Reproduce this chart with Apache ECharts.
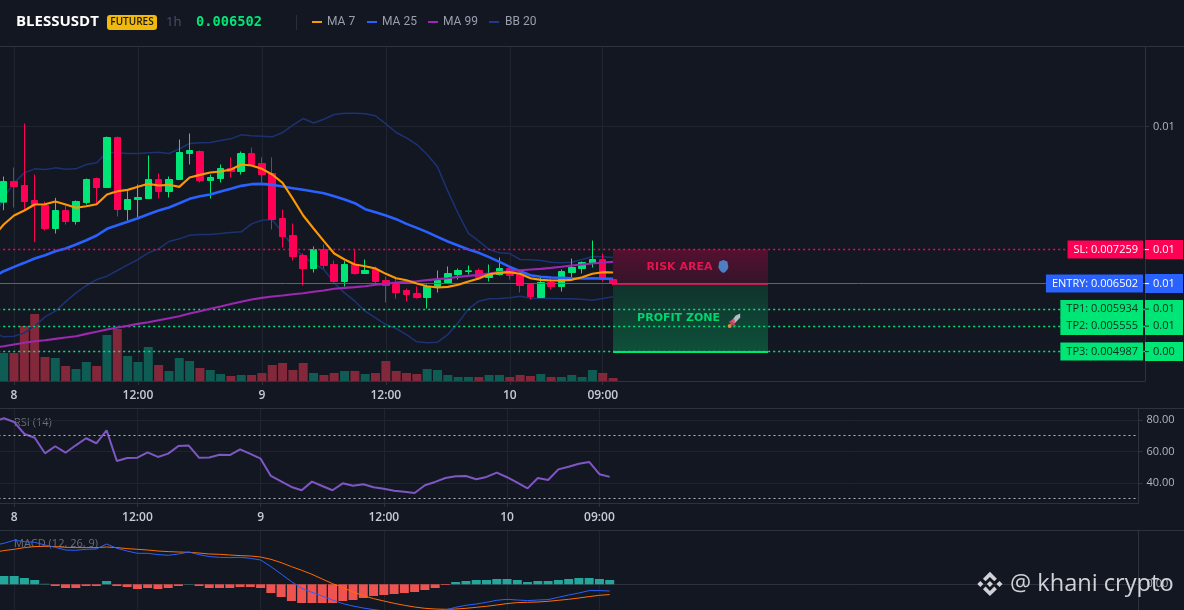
<!DOCTYPE html>
<html><head><meta charset="utf-8">
<style>html,body{margin:0;padding:0;background:#131722}#c{width:1184px;height:610px}</style>
<script src="https://cdn.jsdelivr.net/npm/echarts@6/dist/echarts.min.js"></script>
</head><body><div id="c"></div>
<script>
// prices are in millionths (1e-6 USDT). Candle and volume arrays start at the first whole bar;
// the line studies carry one extra leading value for the bar just cut off by the left edge.
const opens =[8315,8775,8686,8352,8240,7728,8129,7884,8307,8842,8641,9755,8151,8374,8396,8820,8552,8820,9399,9443,8797,8842,9065,8998,9399,9176,8953,7951,7572,7127,6837,7261,6926,6548,6926,6726,6815,6570,6481,6347,6281,6191,6436,6526,6704,6771,6793,6637,6704,6837,6704,6481,6191,6526,6436,6748,6837,6949,7038,6592];
const closes=[8775,8664,8330,8263,7728,8129,7884,8330,8820,8641,9755,8151,8374,8419,8820,8552,8820,9421,9465,8797,8864,9065,8998,9399,9154,8931,7929,7550,7105,6837,7260,6904,6548,6926,6726,6793,6548,6459,6303,6258,6191,6436,6570,6726,6793,6785,6637,6704,6837,6681,6459,6214,6526,6436,6771,6860,6971,7038,6592,6503];
const lows  =[8136,8196,8151,7424,7684,7617,7817,7817,8263,8285,8641,7996,7906,7973,8396,8396,8419,8820,9154,8753,8396,8753,8864,8931,9154,8753,7706,7305,7015,6459,6748,6837,6526,6437,6704,6726,6481,6080,6169,6102,6169,5947,6303,6526,6592,6704,6592,6548,6681,6592,6303,6147,6191,6370,6325,6637,6726,6860,6548,6459];
const highs =[8886,9087,10067,8931,8330,8411,8240,8352,8842,8864,9777,9777,8560,8708,9354,8953,8886,9710,9844,9465,8931,9154,9310,9443,9532,9310,9310,8151,7840,7171,7327,7372,7016,7001,7261,7038,6882,6659,6615,6392,6436,6481,6793,6882,6837,6904,6837,6926,7082,6837,6748,6503,6637,6615,6815,7060,6993,7461,7171,6637];
const ma7   =[7544,7817,8018,8129,8263,8270,8330,8263,8189,8226,8270,8486,8560,8589,8656,8723,8686,8701,8656,8864,8923,8975,8998,9042,9154,9131,9057,8931,8745,8389,8018,7728,7446,7171,7038,6926,6889,6837,6719,6622,6577,6503,6444,6414,6429,6474,6548,6615,6711,6741,6756,6719,6622,6585,6570,6570,6585,6644,6719,6756,6748];
const ma25  =[6650,6778,6874,6964,7060,7134,7223,7283,7372,7468,7572,7721,7802,7877,7958,8047,8129,8196,8292,8389,8448,8486,8552,8612,8678,8716,8723,8701,8664,8627,8590,8552,8515,8448,8374,8293,8159,8092,8018,7936,7832,7743,7647,7543,7439,7350,7261,7186,7090,6986,6874,6778,6689,6652,6637,6630,6622,6615,6622,6615,6607];
const ma99  =[5070,5107,5145,5182,5219,5241,5271,5301,5330,5382,5427,5479,5523,5560,5605,5642,5687,5731,5776,5835,5887,5939,5990,6045,6096,6147,6184,6214,6238,6264,6288,6318,6347,6385,6407,6422,6444,6474,6496,6526,6540,6555,6578,6600,6622,6652,6674,6696,6726,6756,6778,6800,6815,6830,6852,6875,6904,6926,6949,6971,6986];
const bbUp  =[7950,8411,8745,8968,9057,9042,9079,9050,9057,9154,9191,9428,9413,9399,9399,9413,9428,9399,9503,9621,9636,9644,9688,9725,9814,9792,9785,9770,9866,10030,10178,10078,10163,10267,10297,10297,10282,10238,10059,9866,9748,9599,9376,9102,8560,8062,7620,7446,7261,7186,7171,7038,7030,7016,6978,6964,6978,7038,7105,7097,7082];
const bbLow =[5400,5315,5330,5404,5553,5761,5887,6100,6295,6459,6592,6666,6793,6919,7038,7186,7275,7439,7498,7580,7595,7595,7617,7639,7654,7832,7914,7929,7632,7335,7097,6949,6815,6518,6295,6110,5887,5739,5590,5501,5367,5204,5182,5197,5367,5627,5939,6110,6162,6169,6184,6221,6177,6169,6169,6162,6162,6154,6132,6169,6206];
const volume=[28,28,55,67,24,23,15,12,19,15,46,52,25,19,34,16,10,23,20,13,11,7,5,6,6,8,16,18,11,18,8,6,8,10,10,7,8,20,10,8,7,12,11,6,4,4,4,6,6,4,6,5,7,4,4,6,4,11,8,3];
const rsi   =[79,81.1,78.7,71.1,68.7,58.8,63.3,59.2,63.9,68.4,65.2,73.4,53.9,55.8,56.0,59.4,56.5,58.6,63.5,63.7,56.0,56.2,57.9,57.7,61.3,58.4,55.4,44.4,41.0,37.4,35.3,40.8,38.0,35.3,39.7,38.2,39.1,37.2,36.3,35.0,34.4,33.6,38.5,40.6,43.1,44.2,44.4,42.3,43.8,46.5,43.6,40.1,36.5,43.1,41.8,48.6,50.3,52.2,53.3,45.5,43.8];
const macd  =[39,41,44,42.7,42,39.3,37,34.3,34,35,35.3,40.3,36,33.3,31,31,29.7,29,30.3,32.3,29.7,27.7,27,26.7,27,26,24.3,17.7,10.3,2.7,-4,-8,-11.7,-15.7,-19.3,-21.7,-23.7,-25.3,-26.7,-28.3,-29.3,-30,-30,-28.3,-25.7,-23,-21,-19.7,-18,-16,-15,-15.7,-16.3,-15.7,-15.3,-13,-10.7,-8.7,-6.3,-6.3,-6.7];
const signal=[32,33.7,35,36.7,37.7,38,37.7,37,36.7,36.7,36.7,37.3,36.7,35.7,35,34.3,33.3,32.7,32.3,32,31.3,30.3,30,29.3,28.7,28.3,27.3,25,21.7,17.7,14,10,5.3,0.7,-3.3,-7.7,-11.3,-14.3,-16.7,-19,-21,-22.7,-24,-24.7,-25,-24.7,-24,-23,-22,-20.7,-19.3,-18.3,-18,-17.7,-17,-16,-15,-13.7,-12.3,-11,-10.3];
const hist  =[8.3,8.3,6.3,4.3,0.5,-1.7,-3.7,-3.7,-1.7,-1.7,3.3,-1.7,-2.7,-4.7,-3.7,-4.7,-3.7,-1.7,0.3,-1.7,-3.7,-3.7,-3.7,-2.7,-2.7,-3.7,-8.7,-12.7,-16.7,-18.7,-18.7,-18.7,-18.7,-16.7,-15.7,-13.7,-11.7,-10.7,-9.7,-8.7,-7.7,-5.7,-3.7,-0.7,2.3,3.3,4.3,4.3,5.3,5.3,4.3,2.3,3.3,3.3,4.3,5.3,6.3,6.3,5.3,4.3];
const levelNames =['SL: 0.007259','ENTRY: 0.006502','TP1: 0.005934','TP2: 0.005555','TP3: 0.004987'];
const levelValues=[7259,6502,5934,5555,4987];
const levelAxis  =['0.01','0.01','0.01','0.01','0.00'];
const levelFill  =['#ff0055','#2962ff','#00e676','#00e676','#00e676'];
const levelText  =['#ffffff','#ffffff','#0b2b1c','#0b2b1c','#0b2b1c'];
const legendNames=['MA 7','MA 25','MA 99','BB 20'];
const legendColors=['#ff9800','#2962ff','#9c27b0','#1e3a8a'];
const timeTicks={2:'8',14:'12:00',26:'9',38:'12:00',50:'10',59:'09:00'};
const CAT_COUNT=112, ZONE_START=60, ZONE_END=75;

const FONT='"Open Sans",sans-serif', GRID='#20242f', AXIS='#2e323e', TXT='#c8cbd3';
const categories=Array.from({length:CAT_COUNT},(_,i)=>timeTicks[i]||'');
const isTick=(i,v)=>v!=='';
const chart=echarts.init(document.getElementById('c'),null,{renderer:'canvas'});
const xBase=(gridIndex,labels)=>({type:'category',gridIndex,data:categories,boundaryGap:true,
  axisLine:{show:true,lineStyle:{color:AXIS}},
  axisTick:{show:labels,interval:isTick,alignWithLabel:true,length:4,lineStyle:{color:AXIS}},
  axisLabel:{show:labels,interval:isTick,color:TXT,fontFamily:FONT,fontSize:12,fontWeight:600,margin:9},
  splitLine:{show:true,interval:isTick,alignWithLabel:true,lineStyle:{color:GRID}}});
const yBase=(gridIndex,min,max,vals,fmt)=>({type:'value',gridIndex,position:'right',min,max,
  axisLine:{show:true,lineStyle:{color:AXIS}},
  axisTick:{show:true,length:4,customValues:vals,lineStyle:{color:AXIS}},
  axisLabel:{customValues:vals,formatter:fmt,color:'#b2b5be',fontFamily:FONT,fontSize:11,margin:8,padding:[2,0,0,0]},
  splitLine:{show:true,lineStyle:{color:GRID}}});
const line=(name,data,color,width,x,y,z)=>({name,type:'line',data,xAxisIndex:x,yAxisIndex:y,z,showSymbol:false,symbol:'none',smooth:false,lineStyle:{color,width},animation:false,silent:true});
const grad=(a,b)=>new echarts.graphic.LinearGradient(0,0,0,1,[{offset:0,color:a},{offset:1,color:b}]);

const levelLines=[];
levelValues.forEach((v,i)=>{
  const solid=i===1;
  const ls={color:levelFill[i],width:solid?1:1.3,type:solid?'solid':[2,3]};
  levelLines.push({yAxis:v,lineStyle:ls,label:{show:true,position:'end',distance:0,
    formatter:'{d|}{v|'+levelAxis[i]+'}',padding:(i==2||i==3)?[2.5,0,2.5,0]:[3,0,3,0],backgroundColor:levelFill[i],width:38,
    rich:{d:{width:4,height:1,backgroundColor:levelText[i]==='#ffffff'?'#ffffff':'#0b2b1c'},
          v:{color:levelText[i],fontFamily:FONT,fontSize:11,lineHeight:13,padding:[0,0,0,4]}}}});
  levelLines.push({yAxis:v,lineStyle:{color:'rgba(0,0,0,0)',width:0},label:{show:true,position:'insideEnd',distance:2,
    formatter:levelNames[i],color:levelText[i],backgroundColor:levelFill[i],fontFamily:FONT,fontSize:11,padding:[3,5,3,6],lineHeight:12}});
});
const edge=(v,c,w)=>[{coord:[ZONE_START,v],lineStyle:{color:c,width:w,type:'solid'},label:{show:false}},{coord:[ZONE_END,v]}];

const series=[
 {name:'Volume',type:'bar',xAxisIndex:0,yAxisIndex:1,z:1,barWidth:9,animation:false,silent:true,
  data:['-'].concat(volume.map((v,i)=>({value:v,itemStyle:{color:closes[i]>=opens[i]?'#0e5c54':'#83283a'}})))},
 line('BB Upper',bbUp,'#1c3272',1.5,0,0,2),
 line('BB Lower',bbLow,'#1c3272',1.5,0,0,2),
 {name:'Price',type:'candlestick',xAxisIndex:0,yAxisIndex:0,z:3,barWidth:7,animation:false,silent:true,
  data:[['-','-','-','-']].concat(opens.map((o,i)=>[o,closes[i],lows[i],highs[i]])),
  itemStyle:{color:'#00e676',color0:'#ff0055',borderColor:'#00e676',borderColor0:'#ff0055',borderWidth:1}},
 line('MA 25',ma25,'#2962ff',2.6,0,0,4),
 line('MA 99',ma99,'#9c27b0',2.1,0,0,5),
 line('MA 7',ma7,'#ff9800',2.1,0,0,6),
 {name:'Levels',type:'line',data:[],xAxisIndex:0,yAxisIndex:0,z:7,silent:true,animation:false,
  markLine:{silent:true,animation:false,symbol:'none',precision:0,data:levelLines.concat([
     edge(6502,'#f0145a',1.5),edge(4987,'#00e676',2)])},
  markArea:{silent:true,animation:false,data:[
    [{coord:[ZONE_START,7259],itemStyle:{color:grad('rgba(255,0,85,0.28)','rgba(255,0,85,0.14)')},
      label:{show:true,position:'inside',offset:[-11,1],formatter:'RISK AREA',color:'#e8124f',fontFamily:'"DejaVu Sans",sans-serif',fontSize:11,fontWeight:'bold'}},{coord:[ZONE_END,6502]}],
    [{coord:[ZONE_START,6502],itemStyle:{color:grad('rgba(0,230,118,0.13)','rgba(0,230,118,0.28)')},
      label:{show:true,position:'inside',offset:[-12,1],formatter:'PROFIT ZONE',color:'#00d56e',fontFamily:'"DejaVu Sans",sans-serif',fontSize:11,fontWeight:'bold'}},{coord:[ZONE_END,4987]}]
  ]}},
 {name:'Icons',type:'scatter',xAxisIndex:0,yAxisIndex:0,z:9,silent:true,animation:false,
  data:[
   {value:[70,6880],symbol:'path://M5 0 L9 1.5 L10 7 Q9 11 5 13 Q1 11 0 7 L1 1.5 Z',symbolSize:[10,13],symbolOffset:[7,0],itemStyle:{color:'#4f9be8'}},
   {value:[71,5700],symbol:'path://M10 0 L10 4 L5 10 L2 8 L6 2 Z',symbolSize:[9,10],symbolOffset:[9,-1],itemStyle:{color:'#d8dce6'}},
   {value:[71,5680],symbol:'path://M0 4 L4 0 L5 4 L4 6 L6 10 L2 8 Z',symbolSize:[8,8],symbolOffset:[6,2],itemStyle:{color:'#e0436e'}},
   {value:[71,5600],symbol:'circle',symbolSize:4,symbolOffset:[3,2],itemStyle:{color:'#ff9a3c'}}
  ]},
 line('RSI',rsi,'#7e57c2',2,1,2,2),
 {name:'RSI bands',type:'line',data:[],xAxisIndex:1,yAxisIndex:2,silent:true,animation:false,
  markLine:{silent:true,animation:false,symbol:'none',label:{show:false},lineStyle:{color:'#b2b5be',width:1,type:[2,3]},data:[{yAxis:70},{yAxis:30}]}},
 {name:'MACD hist',type:'bar',xAxisIndex:2,yAxisIndex:3,barWidth:9,z:2,animation:false,silent:true,
  data:['-'].concat(hist.map(v=>({value:v,itemStyle:{color:v>=0?'#26a69a':'#ef5350'}})))},
 line('Signal',signal,'#ff6d00',1,2,3,3),
 line('MACD',macd,'#2962ff',1,2,3,4)
];

let lx=[312,367,428,489], tx=[327,382,443,505];
const logoShapes=[
 [[16,2],[24,10],[21,13],[16,8],[11,13],[8,10]],
 [[16,30],[8,22],[11,19],[16,24],[21,19],[24,22]],
 [[16,12.5],[19.5,16],[16,19.5],[12.5,16]],
 [[5,12.5],[8.5,16],[5,19.5],[1.5,16]],
 [[27,12.5],[30.5,16],[27,19.5],[23.5,16]]
];
const gfx=[
 {type:'rect',silent:true,z:1,shape:{x:0,y:46,width:1184,height:1},style:{fill:AXIS}},
 {type:'rect',silent:true,z:1,shape:{x:0,y:408,width:1184,height:1},style:{fill:AXIS}},
 {type:'rect',silent:true,z:1,shape:{x:0,y:530,width:1184,height:1},style:{fill:AXIS}},
 {type:'text',silent:true,x:16,y:22,style:{text:'BLESSUSDT',fill:'#ffffff',font:'700 15px '+FONT,textVerticalAlign:'middle'}},
 {type:'rect',silent:true,shape:{x:107,y:15,width:50,height:15,r:3},style:{fill:'#f0b90b'}},
 {type:'text',silent:true,x:132,y:22.5,style:{text:'FUTURES',fill:'#1a1a1a',font:'600 10px '+FONT,textAlign:'center',textVerticalAlign:'middle'}},
 {type:'text',silent:true,x:166,y:22,style:{text:'1h',fill:'#4a4f6a',font:'13px '+FONT,textVerticalAlign:'middle'}},
 {type:'text',silent:true,x:196,y:22,style:{text:'0.006502',fill:'#00e676',font:'700 13.7px "DejaVu Sans Mono",monospace',textVerticalAlign:'middle'}},
 {type:'rect',silent:true,shape:{x:296,y:15,width:1,height:15},style:{fill:'#2a2e39'}},
 {type:'text',silent:true,x:14,y:423,style:{text:'RSI (14)',fill:'#6a6d78',font:'11px '+FONT,textVerticalAlign:'middle'}},
 {type:'text',silent:true,x:14,y:544,style:{text:'MACD (12, 26, 9)',fill:'#6a6d78',font:'11px '+FONT,textVerticalAlign:'middle'}},
 {type:'text',silent:true,z:50,x:1010,y:584,style:{text:'@ khani crypto',fill:'#d0d2d8',font:'23.6px '+FONT,textVerticalAlign:'middle',shadowColor:'rgba(0,0,0,0.6)',shadowBlur:2,shadowOffsetX:1,shadowOffsetY:1}}
];
logoShapes.forEach(points=>gfx.push({type:'polygon',silent:true,z:50,x:976,y:570,scaleX:0.87,scaleY:0.87,shape:{points},style:{fill:'#d0d2d8'}}));
legendNames.forEach((n,i)=>{
  gfx.push({type:'rect',silent:true,shape:{x:lx[i],y:21,width:10,height:2},style:{fill:legendColors[i]}});
  gfx.push({type:'text',silent:true,x:tx[i],y:22,style:{text:n,fill:'#9a9fae',font:'12px Roboto,sans-serif',textVerticalAlign:'middle'}});
});

chart.setOption({
 animation:false,backgroundColor:'#131722',
 grid:[{left:-11.8,top:47,width:1156.8,height:334,outerBoundsMode:'none'},{left:-11.5,top:408,width:1150,height:95,outerBoundsMode:'none'},{left:-11.5,top:530,width:1150,height:80,outerBoundsMode:'none'}],
 xAxis:[xBase(0,true),xBase(1,true),xBase(2,false)],
 yAxis:[
  yBase(0,4332,11771,[10000],v=>(v/1e6).toFixed(2)),
  {type:'value',gridIndex:0,min:0,max:334,show:false,splitLine:{show:false}},
  yBase(1,27.2,87.63,[40,60,80],v=>v.toFixed(2)),
  yBase(2,-25.7,54.3,[0],v=>'0.00')
 ],
 series,graphic:{elements:gfx}
});
</script></body></html>
